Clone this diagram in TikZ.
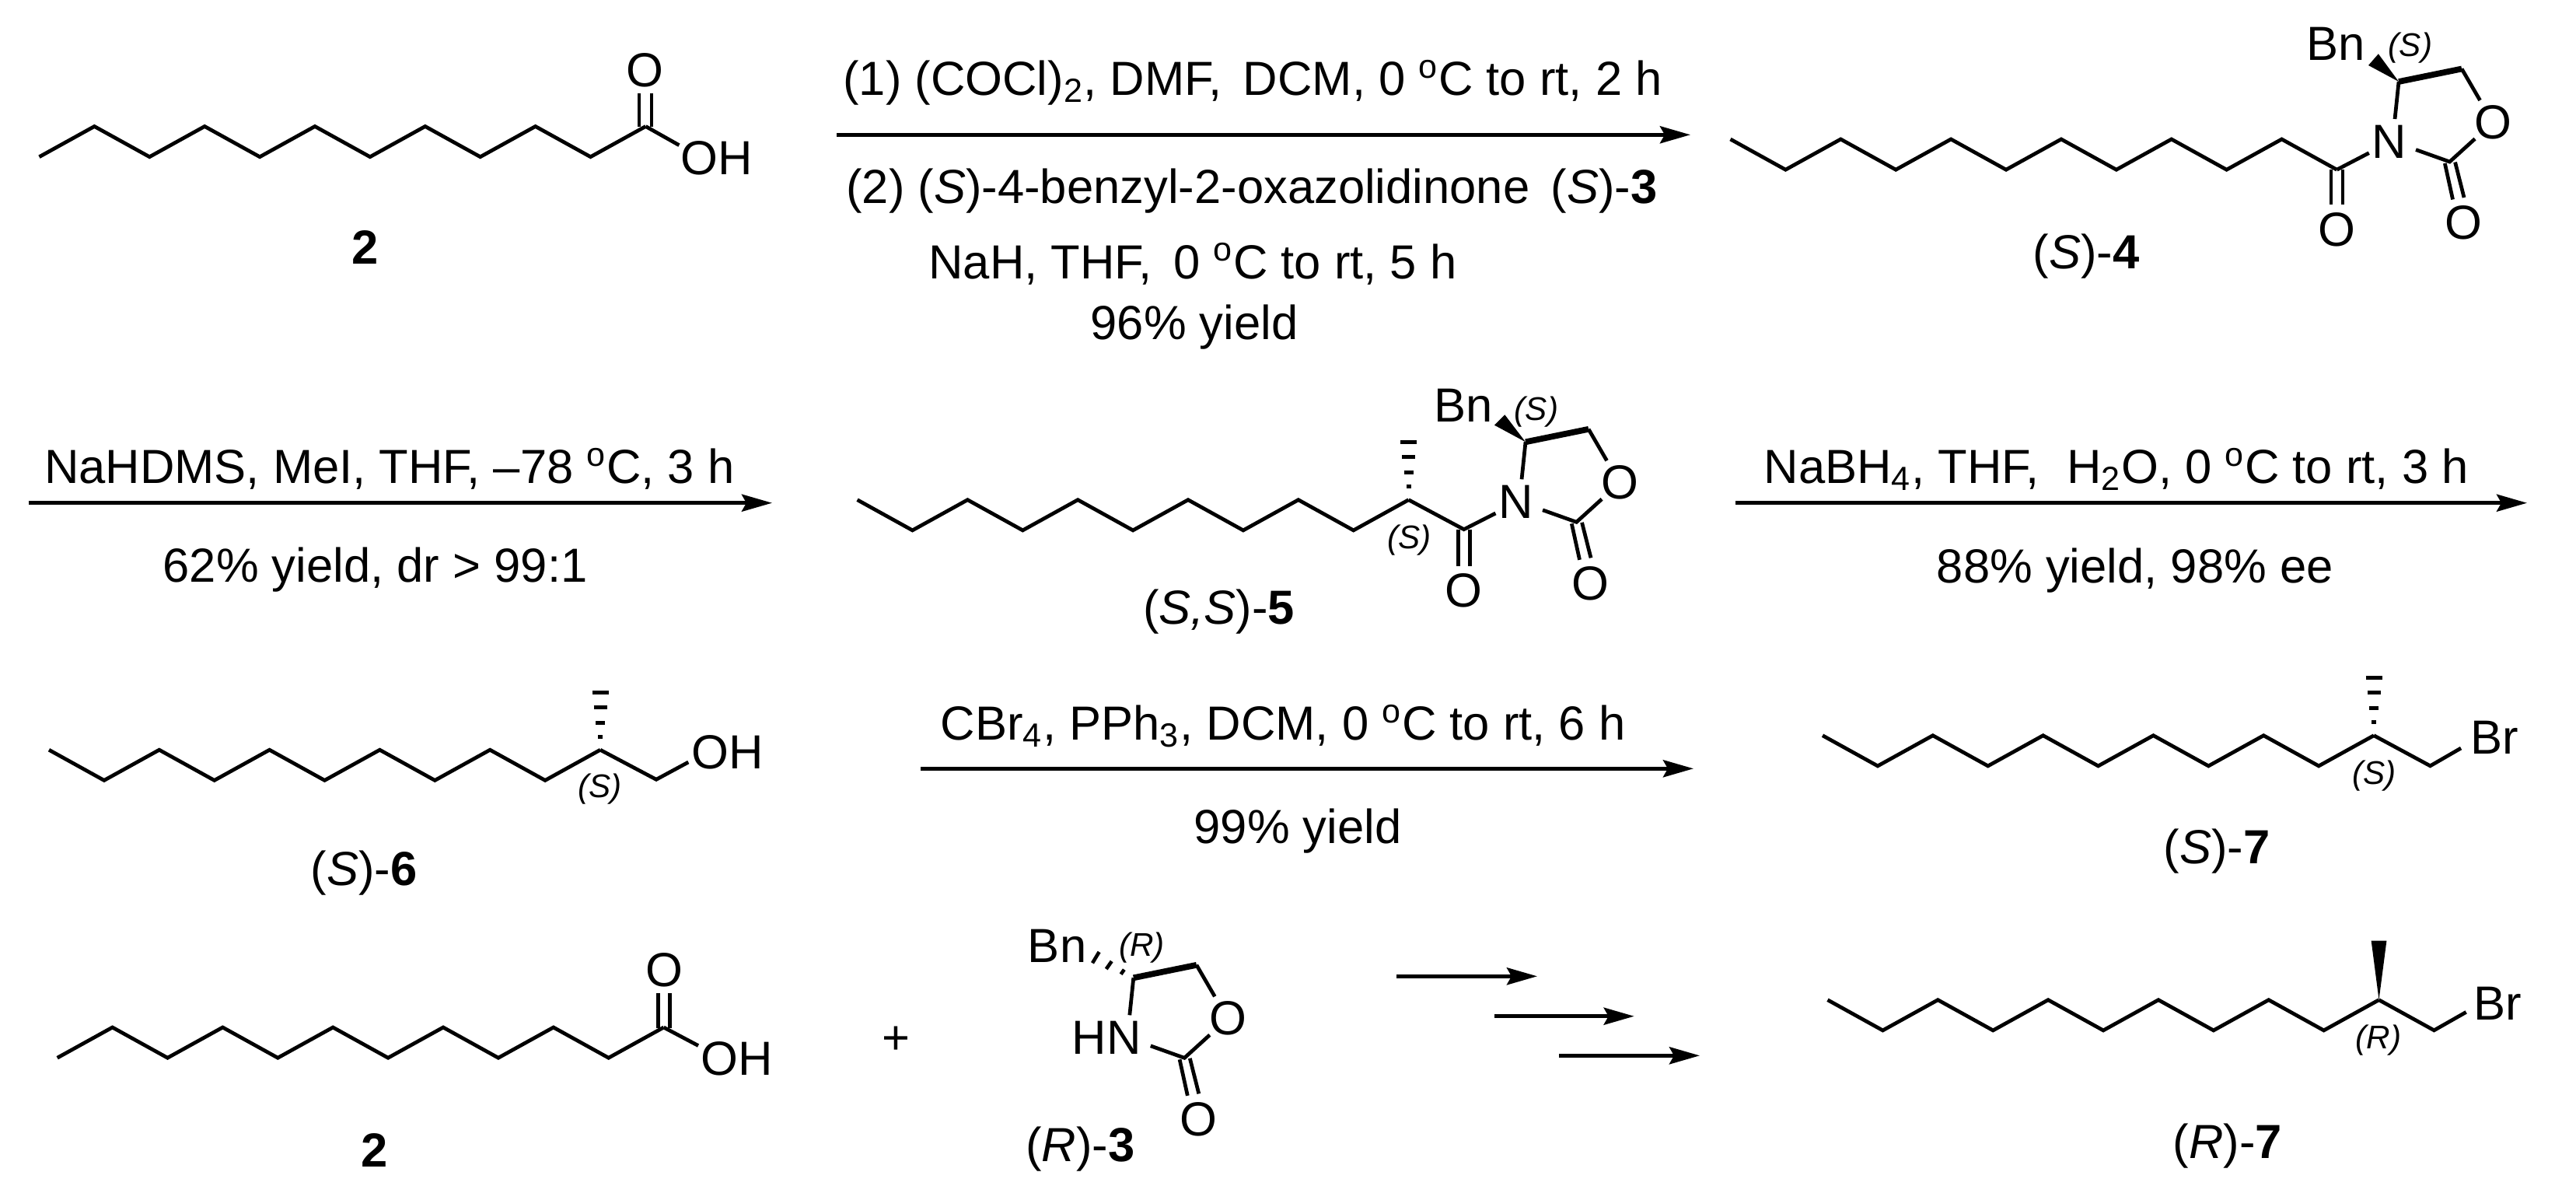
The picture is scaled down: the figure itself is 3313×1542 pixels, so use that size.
\documentclass[tikz,border=0pt]{standalone}
\usepackage{fontspec}
\setmainfont{Liberation Sans}
\usetikzlibrary{arrows.meta}
\tikzset{
    bond/.style={line width=1.35pt},
    boldbond/.style={line width=2.2pt},
    rxn/.style={line width=1.4pt, -{Stealth[length=3.9mm,width=2.2mm,inset=0.6mm]}},
    atom/.style={inner sep=0pt, font=\fontsize{17.5}{21}\selectfont},
    reagent/.style={atom, anchor=base},
    stereo/.style={inner sep=0pt, font=\fontsize{12}{14}\selectfont\itshape},
}
\newcommand{\alkyl}[4]{\draw[bond] #1 foreach \k in {1,...,#3} {-- ++(70.9,{#2*39.2*(1-2*mod(\k,2))})} coordinate (#4);}
\newcommand{\hashmethyl}[1]{\foreach \off/\wid in {-74/10.5,-55/8.5,-35/6,-17/3} {\draw[line width=1.4pt] ([shift={(-\wid,\off)}]#1) -- ([shift={(\wid,\off)}]#1);}}
\newcommand{\oxring}[3]{
    \begin{scope}[shift={#2}]
      \coordinate (#1c) at (0,0);
      \coordinate (#1ch) at (81,-16.5);
      \coordinate (#1co) at (65.5,103);
      \node[atom, anchor=base east] (#1n) at (10.5,98) {#3};
      \node[atom] (#1o) at (121.3,52) {O};
      \node[atom] (#1ox) at (83.3,181.5) {O};
      \draw[boldbond] (#1c) -- (#1ch);
      \draw[bond] (#1c) -- (-5,48);
      \draw[bond] (#1ch) -- (104.5,24);
      \draw[bond] (98,73.5) -- (#1co) -- (22,87.5);
      \draw[bond] (59.3,105) -- (69.5,151.5);
      \draw[bond] (72.5,103.5) -- (84,149);
    \end{scope}
}

\begin{document}
\begin{tikzpicture}[x=0.01cm, y=-0.01cm]
    \useasboundingbox (0,0) rectangle (3313,1542);

    \alkyl{(50.5,201.7)}{1}{11}{acidc}
    \draw[bond] (acidc) -- (873.4,186.7);
    \draw[bond] (822,163) -- (822,120);
    \draw[bond] (838,163) -- (838,120);
    \node[atom] (acido) at (829,90) {O};
    \node[atom] (acidoh) at (922,203) {OH};
    \node[atom] (acidlab) at (470,318) {\textbf{2}};

    \coordinate (ra) at (1076,173.3);
    \coordinate (rb) at (2174,173.3);
    \draw[rxn] (ra) -- (rb);
    \node[reagent] (ra1) at (1611,122.7) {(1) (COCl)\textsubscript{2}, DMF,\, DCM, 0 \textsuperscript{o}C to rt, 2 h};
    \node[reagent] (ra2) at (1610,261.7) {(2) (\textit{S})-4-benzyl-2-oxazolidinone\, (\textit{S})-\textbf{3}};
    \node[reagent] (ra3) at (1534,358) {NaH, THF,\, 0 \textsuperscript{o}C to rt, 5 h};
    \node[reagent] (ra4) at (1536,436.7) {96\% yield};

    \alkyl{(2225.5,179)}{-1}{11}{imidec}
    \oxring{sa}{(3085,105)}{N}
    \draw[bond] (imidec) -- (3046.7,196.7);
    \draw[bond] (2998,218) -- (2998,263);
    \draw[bond] (3013,218) -- (3013,263);
    \node[atom] (imideo) at (3005.5,295) {O};
    \fill (sac) -- (3046,84) -- (3058.8,69.3) -- cycle;
    \node[atom] (sabn) at (3004,56.7) {Bn};
    \node[stereo] (sas) at (3100,61.7) {(S)};
    \node[atom] (imidelab) at (2683,330) {(\textit{S})-\textbf{4}};

    \coordinate (rc) at (36.5,646.7);
    \coordinate (rd) at (993,646.7);
    \draw[rxn] (rc) -- (rd);
    \node[reagent] (rc1) at (500.8,621.7) {NaHDMS, MeI, THF, --78 \textsuperscript{o}C, 3 h};
    \node[reagent] (rc2) at (482.6,748.3) {62\% yield, dr > 99:1};

    \alkyl{(1102.6,642.7)}{-1}{10}{mec}
    \oxring{sb}{(1962,568.3)}{N}
    \coordinate (meco) at (1882.7,680.7);
    \draw[bond] (mec) -- (meco) -- (1923.4,660);
    \draw[bond] (1875.5,681) -- (1875.5,728);
    \draw[bond] (1890.5,681) -- (1890.5,728);
    \node[atom] (meo) at (1882.7,759) {O};
    \hashmethyl{mec}
    \fill (sbc) -- (1922,546.7) -- (1935.3,533.3) -- cycle;
    \node[atom] (sbbn) at (1882,521.7) {Bn};
    \node[stereo] (sbs) at (1976,529.3) {(S)};
    \node[stereo] (mes) at (1812.5,695) {(S)};
    \node[atom] (melab) at (1567.5,786.7) {(\textit{S,S})-\textbf{5}};

    \coordinate (re) at (2232,646.7);
    \coordinate (rf) at (3250,646.7);
    \draw[rxn] (re) -- (rf);
    \node[reagent] (re1) at (2721.6,621.7) {NaBH\textsubscript{4}, THF,\hspace{0.3em} H\textsubscript{2}O, 0 \textsuperscript{o}C to rt, 3 h};
    \node[reagent] (re2) at (2745.8,749.3) {88\% yield, 98\% ee};

    \alkyl{(63,964.2)}{-1}{10}{alcc}
    \draw[bond] (alcc) -- (844,1002.3) -- (885.3,980);
    \hashmethyl{alcc}
    \node[atom] (alcoh) at (935.6,967) {OH};
    \node[stereo] (alcs) at (771.7,1015) {(S)};
    \node[atom] (alclab) at (468,1122.5) {(\textit{S})-\textbf{6}};

    \coordinate (rg) at (1184.4,988.3);
    \coordinate (rh) at (2178,988.3);
    \draw[rxn] (rg) -- (rh);
    \node[reagent] (rg1) at (1650,951.7) {CBr\textsubscript{4}, PPh\textsubscript{3}, DCM, 0 \textsuperscript{o}C to rt, 6 h};
    \node[reagent] (rg2) at (1669,1084) {99\% yield};

    \alkyl{(2344,945.7)}{-1}{10}{sbrc}
    \draw[bond] (sbrc) -- (3125.5,984.8) -- (3165,962);
    \hashmethyl{sbrc}
    \node[atom] (sbr) at (3208.5,948.6) {Br};
    \node[stereo] (sbrs) at (3053.8,997.6) {(S)};
    \node[atom] (sbrlab) at (2851,1095) {(\textit{S})-\textbf{7}};

    \alkyl{(73.7,1360.2)}{1}{11}{acidd}
    \draw[bond] (acidd) -- (898,1344.5);
    \draw[bond] (846.5,1322) -- (846.5,1277);
    \draw[bond] (861.5,1322) -- (861.5,1277);
    \node[atom] (acidp) at (854.4,1247) {O};
    \node[atom] (acidq) at (947.7,1361) {OH};
    \node[atom] (acidlabb) at (482,1479) {\textbf{2}};
    \node[atom] (plus) at (1152.6,1337.3) {+};

    \oxring{rx}{(1457.8,1257.3)}{HN}
    \draw[line width=1.3pt] (1441.6,1252.7) -- (1445.8,1246.7);
    \draw[line width=1.3pt] (1422.7,1246) -- (1429.7,1236);
    \draw[line width=1.3pt] (1405,1238.3) -- (1413.6,1224);
    \node[atom] (rxbn) at (1359.6,1216.7) {Bn};
    \node[stereo] (rxr) at (1468.3,1218.3) {(R)};
    \node[atom] (rxlab) at (1389.4,1478) {(\textit{R})-\textbf{3}};

    \coordinate (ri) at (1796,1255.3);
    \coordinate (rj) at (1977,1255.3);
    \coordinate (rk) at (1922,1306.7);
    \coordinate (rl) at (2101.7,1306.7);
    \coordinate (rm) at (2005,1357.3);
    \coordinate (rn) at (2186,1357.3);
    \draw[rxn] (ri) -- (rj);
    \draw[rxn] (rk) -- (rl);
    \draw[rxn] (rm) -- (rn);

    \alkyl{(2350.5,1285.7)}{-1}{10}{rbrc}
    \draw[bond] (rbrc) -- (3130.4,1324.8) -- (3171.6,1301.4);
    \fill (rbrc) -- (3049.6,1209.5) -- (3069.4,1209.5) -- cycle;
    \node[atom] (rbr) at (3212,1290.5) {Br};
    \node[stereo] (rbrr) at (3058.8,1338) {(R)};
    \node[atom] (rbrlab) at (2864.7,1473.8) {(\textit{R})-\textbf{7}};
  \end{tikzpicture}
\end{document}
